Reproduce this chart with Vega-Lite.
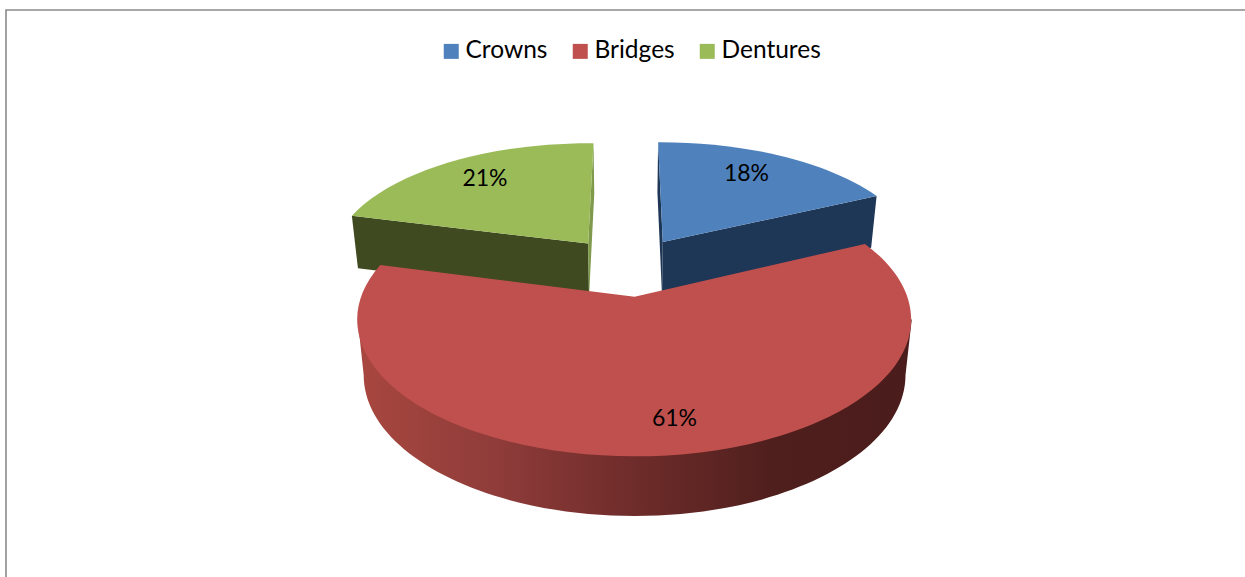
{
  "$schema": "https://vega.github.io/schema/vega-lite/v6.json",
  "autosize": "none",
  "width": 1242,
  "height": 568,
  "padding": {"left": 6, "top": 10, "right": 0, "bottom": 0},
  "background": "#ffffff",
  "config": {"view": {"stroke": "#8a8a8a", "strokeWidth": 1.6}, "font": "Lato"},
  "data": {"values": [
    {"slice": "Crowns", "share": 18},
    {"slice": "Bridges", "share": 61},
    {"slice": "Dentures", "share": 21}
  ]},
  "transform": [
    {"stack": "share", "groupby": [], "as": ["s0", "s1"]},
    {"calculate": "datum.s0 * PI / 50", "as": "a0"},
    {"calculate": "datum.s1 * PI / 50", "as": "a1"},
    {"calculate": "(datum.a0 + datum.a1) / 2", "as": "mid"},
    {"calculate": "0.255 * sin(datum.mid)", "as": "u0"},
    {"calculate": "0.24 * cos(datum.mid)", "as": "v0"},
    {"calculate": "1 + 0.16 * datum.v0", "as": "tw"},
    {"calculate": "262.7 * datum.u0 / datum.tw", "as": "tx"},
    {"calculate": "-123 * datum.v0 / datum.tw", "as": "ty"},
    {"calculate": "datum.u0 + sin(datum.a0)", "as": "au"},
    {"calculate": "datum.v0 + cos(datum.a0)", "as": "av"},
    {"calculate": "262.7 * datum.au / (1 + 0.16 * datum.av)", "as": "ax"},
    {"calculate": "-123 * datum.av / (1 + 0.16 * datum.av)", "as": "ay"},
    {"calculate": "datum.u0 + sin(datum.a1)", "as": "bu"},
    {"calculate": "datum.v0 + cos(datum.a1)", "as": "bv"},
    {"calculate": "262.7 * datum.bu / (1 + 0.16 * datum.bv)", "as": "bx"},
    {"calculate": "-123 * datum.bv / (1 + 0.16 * datum.bv)", "as": "by"},
    {"calculate": "datum.tw * datum.tw - 0.0256", "as": "den"},
    {"calculate": "262.7 * sqrt(datum.u0 * datum.u0 * 0.0256 + datum.den) / datum.den", "as": "rx"},
    {"calculate": "262.7 * datum.u0 * datum.tw / datum.den", "as": "cex"},
    {"calculate": "-123 * (datum.v0 - 1) / (1 + 0.16 * (datum.v0 - 1))", "as": "yNear"},
    {"calculate": "-123 * (datum.v0 + 1) / (1 + 0.16 * (datum.v0 + 1))", "as": "yFar"},
    {"calculate": "(datum.yNear - datum.yFar) / 2", "as": "ry"},
    {"calculate": "(datum.yNear + datum.yFar) / 2", "as": "cey"},
    {"calculate": "'M' + (datum.tx + 1) + ',' + (datum.ty - 27.8) + 'L' + (datum.ax + 1) + ',' + (datum.ay - 27.8) + 'A' + datum.rx + ',' + datum.ry + ' 0 ' + (datum.share > 50 ? 1 : 0) + ' 1 ' + (datum.bx + 1) + ',' + (datum.by - 27.8) + 'Z'", "as": "topFace"},
    {"calculate": "'M' + (datum.tx + 1) + ',' + (datum.ty - 27.8) + 'L' + (datum.ax + 1) + ',' + (datum.ay - 27.8) + 'L' + (0.978 * datum.ax + 1) + ',' + (1.03 * datum.ay + 26.2) + 'L' + (0.978 * datum.tx + 1) + ',' + (1.03 * datum.ty + 26.2) + 'Z'", "as": "startWall"},
    {"calculate": "'M' + (datum.tx + 1) + ',' + (datum.ty - 27.8) + 'L' + (datum.bx + 1) + ',' + (datum.by - 27.8) + 'L' + (0.978 * datum.bx + 1) + ',' + (1.03 * datum.by + 26.2) + 'L' + (0.978 * datum.tx + 1) + ',' + (1.03 * datum.ty + 26.2) + 'Z'", "as": "endWall"},
    {"calculate": "'M' + (datum.cex - datum.rx + 1) + ',' + (datum.cey - 27.8) + 'L' + (0.978 * (datum.cex - datum.rx) + 1) + ',' + (1.03 * datum.cey + 26.2) + 'A' + (0.978 * datum.rx) + ',' + (1.03 * datum.ry) + ' 0 0 0 ' + (0.978 * (datum.cex + datum.rx) + 1) + ',' + (1.03 * datum.cey + 26.2) + 'L' + (datum.cex + datum.rx + 1) + ',' + (datum.cey - 27.8) + 'Z'", "as": "rimWall"},
    {"calculate": "datum.u0 + 0.72 * sin(datum.mid)", "as": "lu"},
    {"calculate": "datum.v0 + 0.72 * cos(datum.mid)", "as": "lv"},
    {"calculate": "619 + 262.7 * datum.lu / (1 + 0.16 * datum.lv) + (datum.share > 50 ? 21 : 0)", "as": "labelX"},
    {"calculate": "256.2 - 123 * datum.lv / (1 + 0.16 * datum.lv) + (datum.share > 50 ? 14.5 : -4)", "as": "labelY"},
    {"calculate": "datum.share + '%'", "as": "labelText"}
  ],
  "layer": [
    {
      "transform": [{"filter": "datum.slice === 'Crowns'"}],
      "mark": {"type": "point", "filled": true, "size": 4, "opacity": 1, "fill": "#1f3757"},
      "encoding": {"shape": {"field": "startWall", "type": "nominal", "scale": null, "legend": null}}
    },
    {
      "transform": [{"filter": "datum.slice === 'Crowns'"}],
      "mark": {"type": "point", "filled": true, "size": 4, "opacity": 1, "fill": "#1f3757"},
      "encoding": {"shape": {"field": "endWall", "type": "nominal", "scale": null, "legend": null}}
    },
    {
      "transform": [{"filter": "datum.slice === 'Dentures'"}],
      "mark": {"type": "point", "filled": true, "size": 4, "opacity": 1, "fill": "#404a20"},
      "encoding": {"shape": {"field": "startWall", "type": "nominal", "scale": null, "legend": null}}
    },
    {
      "transform": [{"filter": "datum.slice === 'Dentures'"}],
      "mark": {"type": "point", "filled": true, "size": 4, "opacity": 1, "fill": "#7f9a4a"},
      "encoding": {"shape": {"field": "endWall", "type": "nominal", "scale": null, "legend": null}}
    },
    {
      "transform": [{"filter": "datum.slice === 'Bridges'"}],
      "mark": {
        "type": "point", "filled": true, "size": 4, "opacity": 1,
        "fill": {
          "gradient": "linear", "x1": 0, "y1": 0, "x2": 1, "y2": 0,
          "stops": [
            {"offset": 0, "color": "#a8473f"},
            {"offset": 0.25, "color": "#8f3c3a"},
            {"offset": 0.5, "color": "#6e2c2a"},
            {"offset": 0.75, "color": "#4f1f1d"},
            {"offset": 1, "color": "#4a1c1b"}
          ]
        }
      },
      "encoding": {"shape": {"field": "rimWall", "type": "nominal", "scale": null, "legend": null}}
    },
    {
      "mark": {"type": "point", "filled": true, "size": 4, "opacity": 1},
      "encoding": {
        "shape": {"field": "topFace", "type": "nominal", "scale": null, "legend": null},
        "fill": {
          "field": "slice", "type": "nominal",
          "scale": {"domain": ["Crowns", "Bridges", "Dentures"], "range": ["#4f81bd", "#c0504d", "#9bbb59"]},
          "legend": {
            "title": null, "orient": "none", "direction": "horizontal", "columns": 3,
            "legendX": 433, "legendY": 29,
            "symbolType": "square", "symbolSize": 225, "symbolOpacity": 1, "symbolStrokeWidth": 0,
            "labelFont": "Lato", "labelFontSize": 24.5, "labelColor": "#000000", "labelOffset": 2,
            "columnPadding": 20
          }
        }
      }
    },
    {
      "mark": {"type": "text", "font": "Lato", "fontSize": 23, "color": "#000000", "align": "center", "baseline": "middle"},
      "encoding": {
        "x": {"field": "labelX", "type": "quantitative", "scale": null, "axis": null},
        "y": {"field": "labelY", "type": "quantitative", "scale": null, "axis": null},
        "text": {"field": "labelText", "type": "nominal"}
      }
    }
  ]
}
